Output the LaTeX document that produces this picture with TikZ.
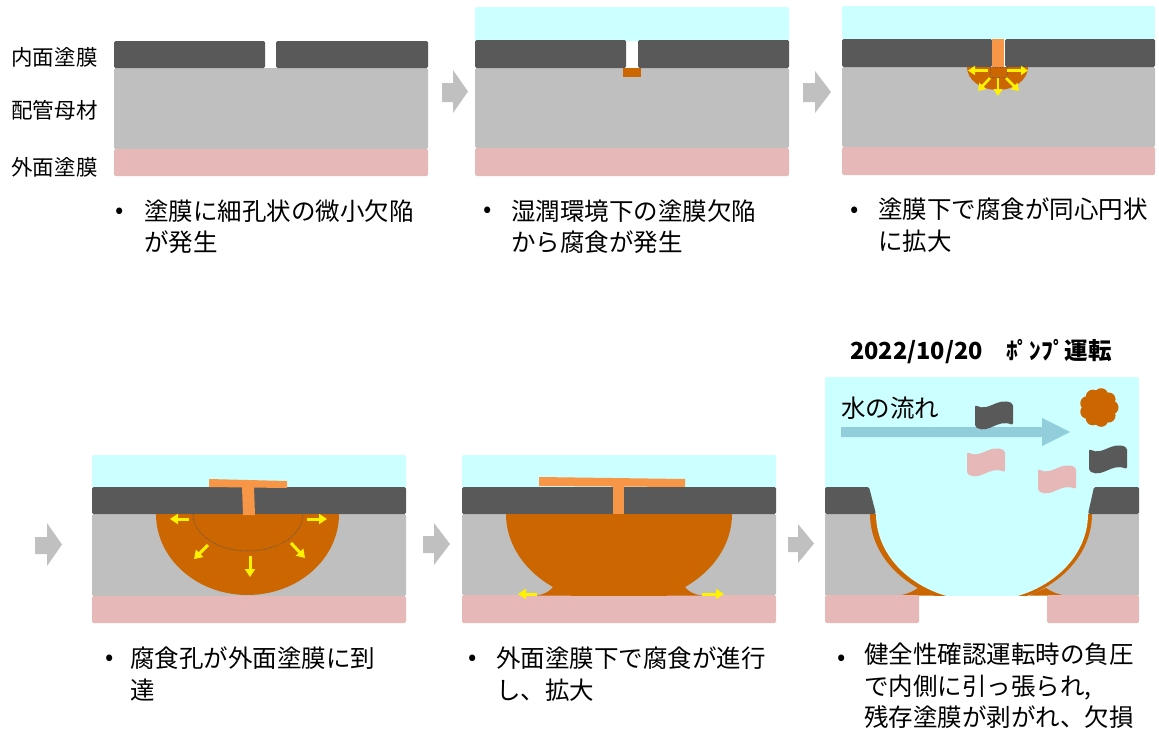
\documentclass[tikz,border=0pt]{standalone}
\usepackage{fontspec}
\setmainfont{Noto Sans CJK JP}
\usetikzlibrary{arrows.meta}

\definecolor{coatdark}{HTML}{595959}
\definecolor{basegray}{HTML}{BFBFBF}
\definecolor{coatpink}{HTML}{E6B9B8}
\definecolor{water}{HTML}{CCFFFF}
\definecolor{rust}{HTML}{CC6600}
\definecolor{rustlight}{HTML}{F79646}
\definecolor{flowblue}{HTML}{92CDDC}
\definecolor{stepgray}{HTML}{C0C0C0}
\definecolor{seamgray}{HTML}{6B5A48}

\tikzset{
  layer/.style={rounded corners=1.5pt},
  spread/.style={draw=yellow, line width=3pt, -{Triangle[length=8pt,width=10pt]}},
  seam/.style={seamgray, line width=1pt, dash pattern=on 1pt off 1.4pt},
  caption/.style={anchor=north west, inner sep=0pt, align=left,
    font=\fontsize{24.5}{31.5}\selectfont},
  bulletdot/.style={inner sep=0pt, font=\fontsize{24.5}{31.5}\selectfont},
  sidelabel/.style={inner sep=0pt, font=\fontsize{21.5}{26}\selectfont},
  stepper/.style={fill=stepgray},
  pics/waveflag/.style={code={
    \fill[#1, rounded corners=2pt] (0,3) .. controls (14,10) and (22,-5) .. (38,1.5)
      -- (38,23) .. controls (22,17) and (14,32) .. (0,25) -- cycle;
  }},
}

\begin{document}
\begin{tikzpicture}[x=1pt,y=-1pt]
\useasboundingbox (0,0) rectangle (1159,731);

% ---------- layer names ----------
\node[sidelabel] (lblinner) at (54.5,57) {内面塗膜};
\node[sidelabel] (lblbase)  at (54.5,110) {配管母材};
\node[sidelabel] (lblouter) at (54.5,167) {外面塗膜};

% ---------- stage 1: pinhole in coating ----------
\fill[basegray, layer] (114,68) rectangle (428,149);
\fill[coatpink, layer] (114,149) rectangle (428,176);
\fill[coatdark, layer] (114,41) rectangle (265,68);
\fill[coatdark, layer] (276,41) rectangle (428,68);
\node[bulletdot] (b1) at (120,213.5) {•};
\node[caption] (t1) at (144,199) {塗膜に細孔状の微小欠陥\\が発生};

% step arrow 1 -> 2
\fill[stepper] (442,83) -- (453,83) -- (453,70) -- (468,91.5) -- (453,113) -- (453,102) -- (442,102) -- cycle;

% ---------- stage 2: corrosion starts ----------
\fill[water, layer] (475,7) rectangle (789,41);
\fill[basegray, layer] (475,68) rectangle (789,148);
\fill[coatpink, layer] (475,148) rectangle (789,176);
\fill[coatdark, layer] (475,40) rectangle (626,68);
\fill[coatdark, layer] (638,40) rectangle (789,68);
\fill[rust] (623,68) rectangle (641,77);
\node[bulletdot] (b2) at (488,212.5) {•};
\node[caption] (t2) at (511,199) {湿潤環境下の塗膜欠陥\\から腐食が発生};

% step arrow 2 -> 3
\fill[stepper] (803,83) -- (815,83) -- (815,71) -- (831,92) -- (815,113) -- (815,102) -- (803,102) -- cycle;

% ---------- stage 3: concentric growth ----------
\fill[water, layer] (842,6) rectangle (1155,39);
\fill[basegray, layer] (842,67) rectangle (1155,147);
\fill[coatpink, layer] (842,147) rectangle (1155,175);
\fill[coatdark, layer] (842,39) rectangle (992,67);
\fill[coatdark, layer] (1005,39) rectangle (1155,67);
\fill[rust] (967,67) arc[start angle=180, end angle=0, x radius=30.5, y radius=23] -- cycle;
\fill[rustlight] (992,39) rectangle (1004,67);
\fill[rust] (990,67) rectangle (1007,77);
\draw[seam, line width=0.7pt] (990,67) rectangle (1007,77);
\begin{scope}[spread/.append style={line width=2.6pt, -{Triangle[length=7pt,width=9pt]}}]
\draw[spread] (988,70.5) -- (968,70.5);
\draw[spread] (1007,70.5) -- (1028,70.5);
\draw[spread] (998,78) -- (998,96);
\draw[spread] (990,78) -- (978,91);
\draw[spread] (1006,78) -- (1019,91);
\end{scope}
\node[bulletdot] (b3) at (855,212) {•};
\node[caption] (t3) at (878,198) {塗膜下で腐食が同心円状\\に拡大};

% step arrow 3 -> 4
\fill[stepper] (35,537) -- (47,537) -- (47,523) -- (62,544.5) -- (47,566) -- (47,554) -- (35,554) -- cycle;

% ---------- stage 4: pit reaches outer coating ----------
\fill[water, layer] (92,455) rectangle (406,488);
\fill[basegray, layer] (92,514) rectangle (406,596);
\fill[coatpink, layer] (92,596) rectangle (406,623);
\fill[coatdark, layer] (92,487) rectangle (406,514);
\fill[rust] (156,514) arc[start angle=180, end angle=0, x radius=91.5, y radius=81] -- cycle;
\draw[seam] (193,514) arc[start angle=180, end angle=0, x radius=55, y radius=37];
\fill[rustlight] (209,479) -- (287,481) -- (287,488) -- (209,487) -- cycle;
\fill[rustlight] (242,487) -- (254,487) -- (255,515) -- (243,515) -- cycle;
\draw[spread] (189,519) -- (170,519);
\draw[spread] (307,519) -- (327,519);
\draw[spread] (250,556) -- (250,577);
\draw[spread] (208,545) -- (194,559);
\draw[spread] (291,543) -- (305,558);
\node[bulletdot] (b4) at (110,660.5) {•};
\node[caption] (t4) at (130,647) {腐食孔が外面塗膜に到\\達};

% step arrow 4 -> 5
\fill[stepper] (423,536) -- (434,536) -- (434,523) -- (450,544) -- (434,565) -- (434,553) -- (423,553) -- cycle;

% ---------- stage 5: spreading under outer coating ----------
\fill[water, layer] (462,455) rectangle (776,488);
\fill[basegray, layer] (462,514) rectangle (776,595);
\fill[coatpink, layer] (462,595) rectangle (776,623);
\fill[coatdark, layer] (462,487) rectangle (776,514);
\begin{scope}
  \clip (462,500) rectangle (776,595.5);
  \fill[rust] (506,514) arc[start angle=180, end angle=0, x radius=113, y radius=90] -- cycle;
\end{scope}
\fill[rust] (553,587) .. controls (549,592) and (544,594.5) .. (536,595.5) -- (580,595.5) -- cycle;
\fill[rust] (685,587) .. controls (689,592) and (694,594.5) .. (702,595.5) -- (658,595.5) -- cycle;
\fill[rustlight] (539,477) -- (685,479) -- (685,487) -- (539,486) -- cycle;
\fill[rustlight] (613,486) rectangle (624,514);
\draw[spread] (537,594) -- (518,594);
\draw[spread] (702,594) -- (724,594);
\node[bulletdot] (b5) at (473,660.5) {•};
\node[caption] (t5) at (496,647) {外面塗膜下で腐食が進行\\し、拡大};

% step arrow 5 -> 6
\fill[stepper] (788,537) -- (798,537) -- (798,524) -- (814,543.5) -- (798,563) -- (798,552) -- (788,552) -- cycle;

% ---------- stage 6: pump run, coating torn out ----------
\node[inner sep=0pt, font=\fontsize{23.5}{28}\selectfont\bfseries] (title) at (981,352) {2022/10/20　ﾎﾟﾝﾌﾟ運転};
\fill[water, layer] (825,377) rectangle (1139,514);
\fill[basegray] (825,514) rectangle (1139,595);
\begin{scope}
  \clip (825,500) rectangle (1139,595.5);
  \fill[rust] (870,514) arc[start angle=180, end angle=0, x radius=111, y radius=90] -- cycle;
\end{scope}
\fill[rust] (918,588) .. controls (912,592) and (907,594) .. (899,595.5) -- (935,595.5) -- cycle;
\fill[rust] (1046,588) .. controls (1052,592) and (1057,594) .. (1065,595.5) -- (1029,595.5) -- cycle;
\begin{scope}
  \clip (825,500) rectangle (1139,595.5);
  \fill[water] (876,514) arc[start angle=180, end angle=0, x radius=106, y radius=87] -- cycle;
\end{scope}
\fill[coatdark, layer] (825,487) -- (869,487) -- (876,514) -- (825,514) -- cycle;
\fill[coatdark, layer] (1094,487) -- (1139,487) -- (1139,514) -- (1088,514) -- cycle;
\fill[coatpink, layer] (825,595) rectangle (919,623);
\fill[coatpink, layer] (1047,595) rectangle (1139,623);

% flow of water
\fill[flowblue] (841,427) -- (1042,427) -- (1042,418) -- (1070,432) -- (1042,446) -- (1042,437) -- (841,437) -- cycle;
\node[anchor=west, inner sep=0pt, font=\fontsize{24.5}{30}\selectfont] (flow) at (841,408) {水の流れ};

% loose debris
\pic at (975,402) {waveflag=coatdark};
\pic at (1089,446) {waveflag=coatdark};
\pic at (967,449) {waveflag=coatpink};
\pic at (1038,466) {waveflag=coatpink};
\fill[rust] (1099,407.5) circle[radius=15];
\foreach \a in {0,40,...,320}
  \fill[rust] (1099,407.5) ++(\a:12.5) circle[radius=7];

\node[bulletdot] (b6) at (842,660.5) {•};
\node[caption] (t6) at (864,643) {健全性確認運転時の負圧\\で内側に引っ張られ,\\残存塗膜が剥がれ、欠損};

\end{tikzpicture}
\end{document}
